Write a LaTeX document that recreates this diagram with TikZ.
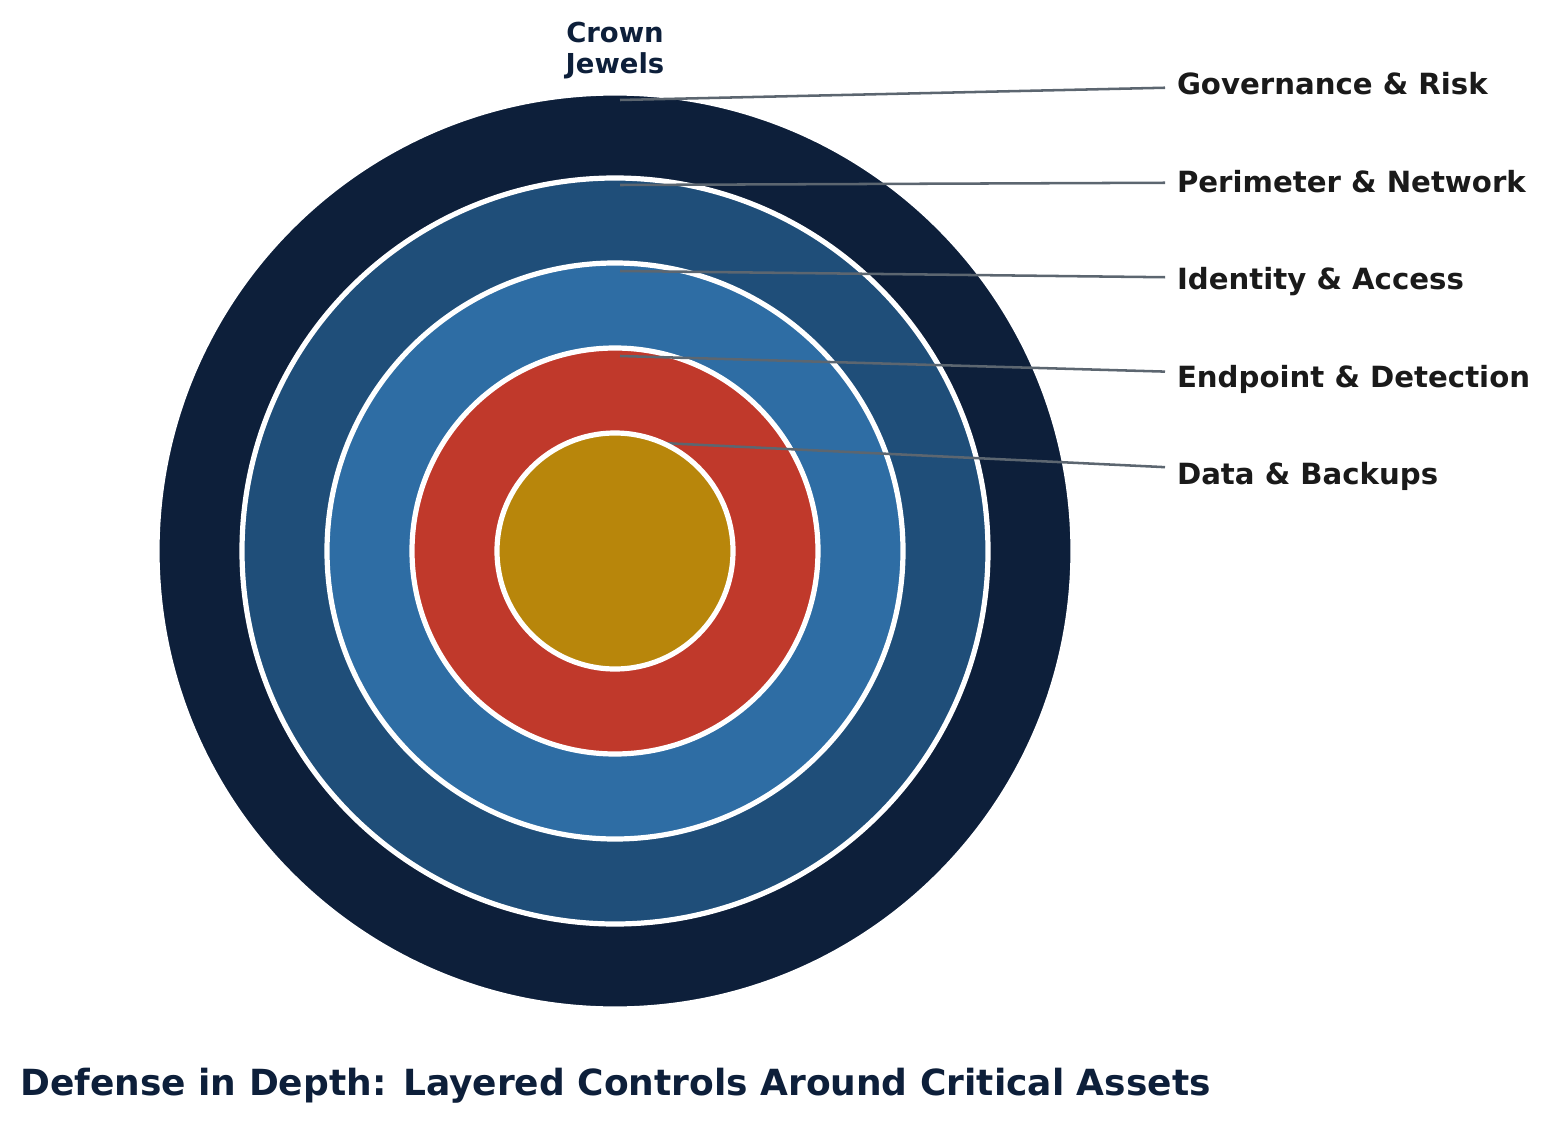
\documentclass[tikz,border=0pt]{standalone}
\usepackage{fontspec}
\setmainfont{DejaVu Sans}
\definecolor{navy}{HTML}{0D1F3A}
\definecolor{steel}{HTML}{1F4E79}
\definecolor{midblue}{HTML}{2E6DA4}
\definecolor{brick}{HTML}{C0392B}
\definecolor{gold}{HTML}{B8860B}
\definecolor{leader}{HTML}{5C6670}
\definecolor{ink}{HTML}{1A1A1A}
\begin{document}
\begin{tikzpicture}[x=0.75pt,y=-0.75pt,
  ring/.style={draw=white,line width=3.9pt},
  leaderline/.style={draw=leader,line width=1.9pt},
  layerlabel/.style={anchor=west,inner sep=0pt,outer sep=9pt,text height=16pt,
    text depth=0pt,text=ink,font=\bfseries\fontsize{21.9}{26}\selectfont}]
 \useasboundingbox (0,0) rectangle (1549,1123);
 \coordinate (c) at (615,551);
 \filldraw[ring,fill=navy] (c) circle[radius=458*0.75pt];
 \filldraw[ring,fill=steel] (c) circle[radius=373*0.75pt];
 \filldraw[ring,fill=midblue] (c) circle[radius=288*0.75pt];
 \filldraw[ring,fill=brick] (c) circle[radius=203*0.75pt];
 \node[layerlabel] (gov) at (1165,84) {Governance \& Risk};
 \node[layerlabel] (perim) at (1165,182) {Perimeter \& Network};
 \node[layerlabel] (ident) at (1165,279) {Identity \& Access};
 \node[layerlabel] (endp) at (1165,377) {Endpoint \& Detection};
 \node[layerlabel] (data) at (1165,474) {Data \& Backups};
 \coordinate (govin) at (620,100);
 \coordinate (perimin) at (620,185);
 \coordinate (identin) at (620,271);
 \coordinate (endpin) at (620,356);
 \coordinate (datain) at (620,441);
 \draw[leaderline] (govin) -- (gov);
 \draw[leaderline] (perimin) -- (perim);
 \draw[leaderline] (identin) -- (ident);
 \draw[leaderline] (endpin) -- (endp);
 \draw[leaderline] (datain) -- (data);
 \filldraw[ring,fill=gold] (c) circle[radius=118*0.75pt];
 \node[anchor=north,align=center,inner sep=0pt,text=navy,
   font=\bfseries\fontsize{20.6}{23.25}\selectfont] (crown) at (615,22) {Crown\\Jewels};
 \node[anchor=base west,inner sep=0pt,text=navy,
   font=\bfseries\fontsize{27}{31}\selectfont] (title) at (20,1095)
   {Defense in Depth: Layered Controls Around Critical Assets};
\end{tikzpicture}
\end{document}
